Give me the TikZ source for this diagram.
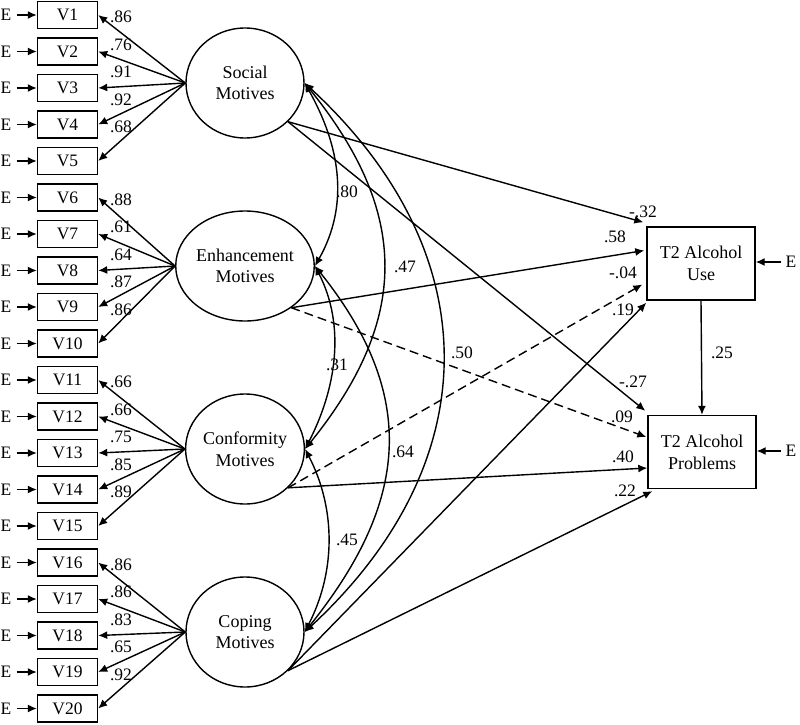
\documentclass[tikz,border=0pt]{standalone}
\usepackage{fontspec}
\setmainfont{Liberation Serif}
\usetikzlibrary{shapes.geometric,arrows.meta,calc}
\begin{document}
\begin{tikzpicture}[x=1pt,y=-1pt,
  every node/.style={font=\fontsize{17.5}{20}\selectfont},
  ind/.style={draw,line width=1.4pt,minimum width=60pt,minimum height=27pt,inner sep=0pt},
  fac/.style={draw,ellipse,line width=1.4pt,minimum width=118pt,minimum height=110pt,inner sep=0pt,align=center,font=\fontsize{18}{21.5}\selectfont},
  outc/.style={draw,line width=1.4pt,minimum width=108pt,minimum height=73pt,inner sep=0pt,align=center,font=\fontsize{18}{22}\selectfont},
  lab/.style={inner sep=0pt,font=\fontsize{17.5}{20}\selectfont},
  errl/.style={inner sep=1pt},
  arr/.style={line width=1.4pt,-{Latex[length=9pt,width=8pt]}},
  cov/.style={line width=1.4pt,{Latex[length=9pt,width=8pt]}-{Latex[length=9pt,width=8pt]}},
  dsh/.style={dash pattern=on 9pt off 5pt}
]
\useasboundingbox (0,0) rectangle (800,725);

% factors
\node[fac] (soc) at (245,83) {Social\\Motives};
\node[fac] (enh) at (245,266) {Enhancement\\Motives};
\node[fac] (con) at (245,449) {Conformity\\Motives};
\node[fac] (cop) at (245,632) {Coping\\Motives};

% indicators
\foreach \i in {1,...,20}{
  \pgfmathsetmacro\yy{15+36.5*(\i-1)}
  \node[ind] (v\i) at (67.5,\yy) {V\i};
  \node[errl] (e\i) at (6,\yy) {E};
  \draw[arr,shorten <=4pt] (e\i) -- (v\i);
}

% loadings
\foreach \i/\f/\k/\val in {1/soc/1/.86,2/soc/2/.76,3/soc/3/.91,4/soc/4/.92,5/soc/5/.68,
  6/enh/1/.88,7/enh/2/.61,8/enh/3/.64,9/enh/4/.87,10/enh/5/.86,
  11/con/1/.66,12/con/2/.66,13/con/3/.75,14/con/4/.85,15/con/5/.89,
  16/cop/1/.86,17/cop/2/.86,18/cop/3/.83,19/cop/4/.65,20/cop/5/.92}{
  \pgfmathsetmacro\yl{15+36.5*(\i-1)+2-9*(\k-1)}
  \draw[arr] (\f.west) -- (v\i.east);
  \node[lab] (l\i) at (121,\yl) {\val};
}

% covariances
\draw[cov] (soc.east) .. controls +(35,62) and +(35,-62) .. (enh.east);
\draw[cov] (soc.east) .. controls +(105,130) and +(105,-130) .. (con.east);
\draw[cov] (soc.east) .. controls +(184,170) and +(184,-170) .. (cop.east);
\draw[cov] (enh.east) .. controls +(31,60) and +(31,-60) .. (con.east);
\draw[cov] (enh.east) .. controls +(104,130) and +(104,-130) .. (cop.east);
\draw[cov] (con.east) .. controls +(31,60) and +(31,-60) .. (cop.east);
\node[lab] (c1) at (347,192) {.80};
\node[lab] (c2) at (405,267) {.47};
\node[lab] (c3) at (462,353) {.50};
\node[lab] (c4) at (337,365) {.31};
\node[lab] (c5) at (403,452) {.64};
\node[lab] (c6) at (347,540) {.45};

% outcomes
\node[outc] (use) at (701,263.5) {T2 Alcohol\\Use};
\node[outc] (prob) at (702,452) {T2 Alcohol\\Problems};
\node[errl] (eu) at (791,262) {E};
\node[errl] (ep) at (791,451) {E};
\draw[arr,shorten <=3pt] (eu.west) -- (use.east |- eu.west);
\draw[arr,shorten <=3pt] (ep.west) -- (prob.east |- ep.west);
\draw[arr] (use.south) -- (prob.north);
\node[lab] (p0) at (722,353) {.25};

% structural paths
\draw[arr] (soc.-42) -- ($(use.north west)+(-3,-4)$);
\draw[arr] (enh.-42) -- ($(use.west)+(-2,-13)$);
\draw[arr,dsh] (con.-42) -- ($(use.west)+(-4,21)$);
\draw[arr] (cop.-42) -- ($(use.south west)+(0,2)$);
\draw[arr] (soc.-42) -- ($(prob.north west)+(-2,-4)$);
\draw[arr,dsh] (enh.-42) -- ($(prob.west)+(-1,-15)$);
\draw[arr] (con.-42) -- ($(prob.west)+(0,16)$);
\draw[arr] (cop.-42) -- ($(prob.south west)+(5,2)$);

\node[lab] (p1) at (643,212) {-.32};
\node[lab] (p2) at (615,237) {.58};
\node[lab] (p3) at (623,273) {-.04};
\node[lab] (p4) at (623,310) {.19};
\node[lab] (p5) at (633,382) {-.27};
\node[lab] (p6) at (622,417) {.09};
\node[lab] (p7) at (623,457) {.40};
\node[lab] (p8) at (625,491) {.22};
\end{tikzpicture}
\end{document}
